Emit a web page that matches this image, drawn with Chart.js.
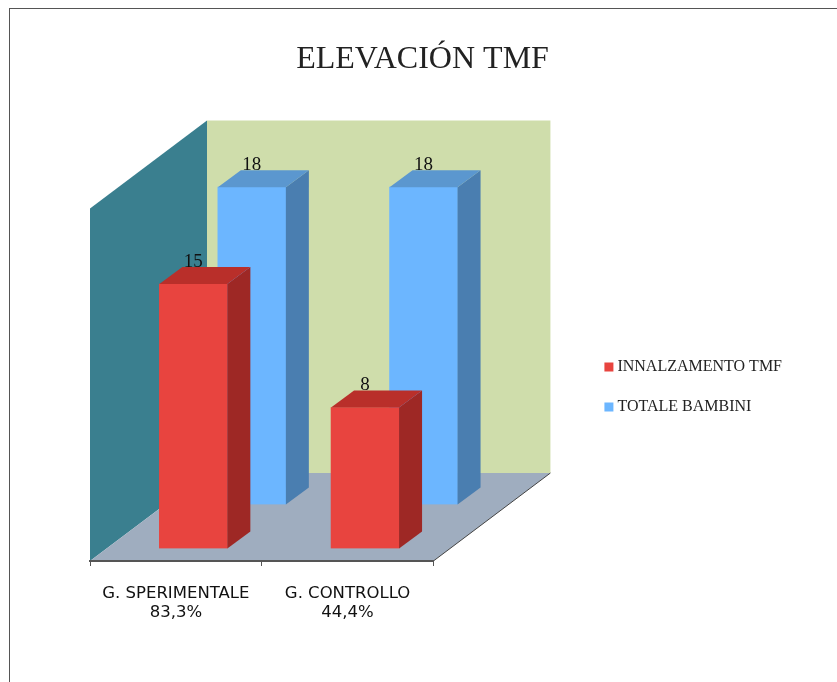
<!DOCTYPE html>
<html>
<head>
<meta charset="utf-8">
<title>ELEVACIÓN TMF</title>
<script src="https://cdn.jsdelivr.net/npm/chart.js@4"></script>
<style>
    html, body { margin: 0; background: #fff; overflow: hidden; }
    #frame {
        position: absolute;
        left: 9px;
        top: 8px;
        width: 840px;
        height: 690px;
        border-left: 1.5px solid #555;
        border-top: 1.5px solid #555;
    }
    #tmfChart { position: absolute; left: 0; top: 0; }
</style>
</head>
<body>
<div id="frame"><canvas id="tmfChart" width="826" height="776"></canvas></div>
<script>
// --- DATA ---
const categories = [['G. SPERIMENTALE', '83,3%'], ['G. CONTROLLO', '44,4%']];
const innalzamento = [15, 8];
const totaleBambini = [18, 18];

// --- 3D LOOK ---
const WALL_DX = 117;
const WALL_DY = -88;
const BAR_DX = 23;
const BAR_DY = -17;
const SERIF = '"Liberation Serif", serif';

const rowStyles = [
    { dx: 17.5, dy: -12.5, front: '#E8443F', side: '#9E2825', top: '#B92F2A' },
    { dx: 76, dy: -56.5, front: '#6CB6FF', side: '#4A7EB0', top: '#5B97CF' },
];

function fillPoly(ctx, color, points) {
    ctx.fillStyle = color;
    ctx.beginPath();
    points.forEach(([x, y], i) => (i ? ctx.lineTo(x, y) : ctx.moveTo(x, y)));
    ctx.closePath();
    ctx.fill();
}

// walls and floor go behind everything else
const walls = {
    id: 'walls',
    beforeDraw(chart) {
        const { ctx, chartArea: a } = chart;
        const backLeft = a.left + WALL_DX;
        const backRight = a.right + WALL_DX;
        const backTop = a.top + WALL_DY;
        const backBottom = a.bottom + WALL_DY;
        fillPoly(ctx, '#CFDDAB', [[backLeft, backTop], [backRight, backTop], [backRight, backBottom], [backLeft, backBottom]]);
        fillPoly(ctx, '#3A7F8F', [[a.left, a.bottom], [a.left, a.top], [backLeft, backTop], [backLeft, backBottom]]);
        fillPoly(ctx, '#9FADBF', [[a.left, a.bottom], [a.right, a.bottom], [backRight, backBottom], [backLeft, backBottom]]);
        ctx.strokeStyle = '#444';
        ctx.lineWidth = 1;
        ctx.beginPath();
        ctx.moveTo(a.right, a.bottom);
        ctx.lineTo(backRight, backBottom);
        ctx.stroke();
    },
};

// each series sits on its own row along the depth of the floor
const depthBars = {
    id: 'depthBars',
    beforeDatasetDraw(chart, args) {
        const row = rowStyles[args.index];
        chart.ctx.save();
        chart.ctx.translate(row.dx, row.dy);
    },
    afterDatasetDraw(chart, args) {
        const { ctx } = chart;
        const row = rowStyles[args.index];
        args.meta.data.forEach((bar) => {
            const left = bar.x - bar.width / 2;
            const right = bar.x + bar.width / 2;
            fillPoly(ctx, row.side, [[right, bar.y], [right + BAR_DX, bar.y + BAR_DY], [right + BAR_DX, bar.base + BAR_DY], [right, bar.base]]);
            fillPoly(ctx, row.top, [[left, bar.y], [left + BAR_DX, bar.y + BAR_DY], [right + BAR_DX, bar.y + BAR_DY], [right, bar.y]]);
        });
        ctx.restore();
    },
    afterDatasetsDraw(chart) {
        const { ctx } = chart;
        ctx.save();
        ctx.fillStyle = '#111';
        ctx.font = '19px ' + SERIF;
        ctx.textAlign = 'center';
        ctx.textBaseline = 'middle';
        chart.data.datasets.forEach((dataset, i) => {
            const row = rowStyles[i];
            chart.getDatasetMeta(i).data.forEach((bar, j) => {
                ctx.fillText(dataset.data[j], bar.x + row.dx, bar.y + row.dy + BAR_DY - 5);
            });
        });
        ctx.restore();
    },
};

new Chart(document.getElementById('tmfChart'), {
    type: 'bar',
    data: {
        labels: categories,
        datasets: [
            { label: 'INNALZAMENTO TMF', data: innalzamento, backgroundColor: rowStyles[0].front },
            { label: 'TOTALE BAMBINI', data: totaleBambini, backgroundColor: rowStyles[1].front },
        ],
    },
    plugins: [walls, depthBars],
    options: {
        responsive: false,
        animation: false,
        layout: { padding: { left: 43, right: 44, top: 0, bottom: 20 } },
        datasets: { bar: { grouped: false, barThickness: 68, borderWidth: 0 } },
        plugins: {
            tooltip: { enabled: false },
            title: {
                display: true,
                text: 'ELEVACIÓN TMF',
                color: '#222',
                font: { family: SERIF, size: 32, weight: 'normal' },
                padding: { top: 31, bottom: 130 },
            },
            legend: {
                position: 'right',
                maxWidth: 300,
                labels: {
                    usePointStyle: true,
                    pointStyle: 'rect',
                    boxWidth: 1,
                    boxHeight: 9,
                    padding: 24,
                    color: '#222',
                    font: { family: SERIF, size: 16 },
                },
            },
        },
        scales: {
            x: {
                border: { color: '#555', width: 2 },
                grid: { drawOnChartArea: false, tickLength: 5, tickColor: '#555' },
                ticks: {
                    color: '#111',
                    padding: 19,
                    maxRotation: 0,
                    font: { family: '"DejaVu Sans", sans-serif', size: 16.5, lineHeight: 1.1 },
                },
                afterFit(axis) {
                    axis.height = 204;
                },
            },
            // empty axis: its width pushes the plot in from the frame
            y: {
                min: 0,
                max: 20,
                border: { display: false },
                grid: { display: false },
                ticks: { display: false },
                afterFit(axis) {
                    axis.width = 37;
                },
            },
            // keeps the legend clear of the plot and its back wall
            legendGap: {
                position: 'right',
                display: true,
                border: { display: false },
                grid: { display: false },
                ticks: { display: false },
                afterFit(axis) {
                    axis.width = 151;
                },
            },
        },
    },
});
</script>
</body>
</html>
